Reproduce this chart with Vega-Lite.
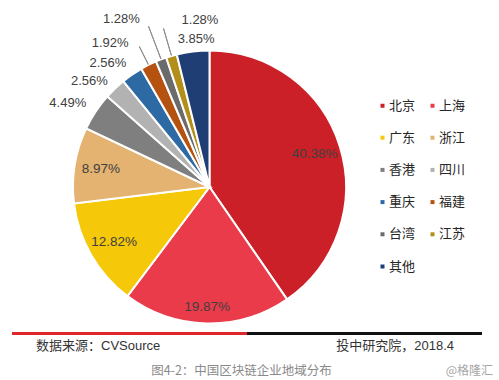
{
  "$schema": "https://vega.github.io/schema/vega-lite/v6.json",
  "background": "white",
  "padding": {"left": 12, "top": 13, "right": 5, "bottom": 0},
  "bounds": "flush",
  "spacing": 0,
  "config": {
    "view": {"stroke": null},
    "font": "Liberation Sans, Noto Sans CJK SC"
  },
  "datasets": {
    "regions": [
      {"region": "北京", "share": 0.4038},
      {"region": "上海", "share": 0.1987},
      {"region": "广东", "share": 0.1282},
      {"region": "浙江", "share": 0.0897},
      {"region": "香港", "share": 0.0449},
      {"region": "四川", "share": 0.0256},
      {"region": "重庆", "share": 0.0256},
      {"region": "福建", "share": 0.0192},
      {"region": "台湾", "share": 0.0128},
      {"region": "江苏", "share": 0.0128},
      {"region": "其他", "share": 0.0385}
    ],
    "footer": [
      {"seg": "左", "text": "数据来源：CVSource"},
      {"seg": "右", "text": "投中研究院，2018.4"}
    ]
  },
  "vconcat": [
    {
      "width": 395,
      "height": 290,
      "data": {"name": "regions"},
      "transform": [
        {"window": [{"op": "row_number", "as": "idx"}]},
        {"stack": "share", "groupby": [], "sort": [{"field": "idx", "order": "ascending"}], "as": ["s0", "s1"]}
      ],
      "layer": [
        {
          "mark": {"type": "arc", "outerRadius": 136.5, "stroke": "white", "strokeWidth": 2},
          "encoding": {
            "theta": {"field": "s0", "type": "quantitative", "stack": null},
            "theta2": {"field": "s1"},
            "color": {
              "field": "region",
              "type": "nominal",
              "scale": {
                "domain": ["北京", "上海", "广东", "浙江", "香港", "四川", "重庆", "福建", "台湾", "江苏", "其他"],
                "range": ["#cb2027", "#ea3b4a", "#f5c80a", "#e4b271", "#7f7f7f", "#b2b2b2", "#2d6aa3", "#b5520f", "#6b6b6b", "#b38f1a", "#1e3e74"]
              },
              "legend": {
                "orient": "none",
                "direction": "horizontal",
                "legendX": 364,
                "legendY": 57,
                "columns": 2,
                "title": null,
                "padding": 0,
                "symbolType": "square",
                "symbolSize": 16,
                "symbolStrokeWidth": 0,
                "labelFontSize": 13,
                "labelColor": "#262626",
                "labelFont": "Noto Sans CJK SC",
                "labelOffset": 0,
                "rowPadding": 18.2,
                "columnPadding": 10
              }
            }
          }
        },
        {
          "mark": {"type": "text", "fontSize": 13.5, "color": "#404040", "radius": 110},
          "encoding": {
            "theta": {"field": "share", "type": "quantitative", "stack": true},
            "order": {"field": "idx", "type": "quantitative"},
            "detail": {"field": "region", "type": "nominal"},
            "text": {
              "condition": {"test": "indexof(['北京','广东','浙江'], datum.region) >= 0", "field": "share", "type": "quantitative", "format": ".2%"},
              "value": ""
            }
          }
        },
        {
          "mark": {"type": "text", "fontSize": 13.5, "color": "#404040", "radius": 120},
          "encoding": {
            "theta": {"field": "share", "type": "quantitative", "stack": true},
            "order": {"field": "idx", "type": "quantitative"},
            "detail": {"field": "region", "type": "nominal"},
            "text": {
              "condition": {"test": "datum.region === '上海'", "field": "share", "type": "quantitative", "format": ".2%"},
              "value": ""
            }
          }
        },
        {
          "transform": [{"filter": "datum.region === '香港'"}],
          "mark": {"type": "text", "fontSize": 13, "color": "#404040", "radius": 165, "thetaOffset": 0.0942},
          "encoding": {
            "theta": {"field": "s0", "type": "quantitative", "stack": null},
            "text": {"field": "share", "type": "quantitative", "format": ".2%"}
          }
        },
        {
          "transform": [{"filter": "datum.region === '四川' || datum.region === '重庆'"}],
          "mark": {"type": "text", "fontSize": 13, "color": "#404040", "radius": 160, "thetaOffset": -0.0035},
          "encoding": {
            "theta": {"field": "s0", "type": "quantitative", "stack": null},
            "text": {"field": "share", "type": "quantitative", "format": ".2%"}
          }
        },
        {
          "transform": [{"filter": "datum.region === '福建'"}],
          "mark": {"type": "text", "fontSize": 13, "color": "#404040", "radius": 175, "thetaOffset": -0.0803},
          "encoding": {
            "theta": {"field": "s0", "type": "quantitative", "stack": null},
            "text": {"field": "share", "type": "quantitative", "format": ".2%"}
          }
        },
        {
          "transform": [{"filter": "datum.region === '台湾'"}],
          "mark": {"type": "text", "fontSize": 13, "color": "#404040", "radius": 189.5, "thetaOffset": -0.0803},
          "encoding": {
            "theta": {"field": "s0", "type": "quantitative", "stack": null},
            "text": {"field": "share", "type": "quantitative", "format": ".2%"}
          }
        },
        {
          "transform": [{"filter": "datum.region === '江苏'"}],
          "mark": {"type": "text", "fontSize": 13, "color": "#404040", "radius": 167, "thetaOffset": 0.2653},
          "encoding": {
            "theta": {"field": "s0", "type": "quantitative", "stack": null},
            "text": {"field": "share", "type": "quantitative", "format": ".2%"}
          }
        },
        {
          "transform": [{"filter": "datum.region === '其他'"}],
          "mark": {"type": "text", "fontSize": 13, "color": "#404040", "radius": 149, "thetaOffset": 0.1518},
          "encoding": {
            "theta": {"field": "s0", "type": "quantitative", "stack": null},
            "text": {"field": "share", "type": "quantitative", "format": ".2%"}
          }
        },
        {
          "transform": [{"filter": "datum.region === '福建'"}],
          "mark": {"type": "arc", "filled": false, "stroke": "#8c8c8c", "strokeWidth": 1, "innerRadius": 137, "outerRadius": 157, "thetaOffset": 0.0603, "theta2Offset": 0.0603},
          "encoding": {
            "theta": {"field": "s0", "type": "quantitative", "stack": null},
            "theta2": {"field": "s0"}
          }
        },
        {
          "transform": [{"filter": "datum.region === '台湾'"}],
          "mark": {"type": "arc", "filled": false, "stroke": "#8c8c8c", "strokeWidth": 1, "innerRadius": 137, "outerRadius": 172, "thetaOffset": 0.0402, "theta2Offset": 0.0402},
          "encoding": {
            "theta": {"field": "s0", "type": "quantitative", "stack": null},
            "theta2": {"field": "s0"}
          }
        },
        {
          "transform": [{"filter": "datum.region === '江苏'"}],
          "mark": {"type": "arc", "filled": false, "stroke": "#8c8c8c", "strokeWidth": 1, "innerRadius": 137, "outerRadius": 165, "thetaOffset": 0.0402, "theta2Offset": 0.0402},
          "encoding": {
            "theta": {"field": "s0", "type": "quantitative", "stack": null},
            "theta2": {"field": "s0"}
          }
        }
      ]
    },
    {
      "width": 470,
      "height": 3,
      "data": {"name": "footer"},
      "encoding": {
        "x": {"field": "seg", "type": "nominal", "sort": null, "axis": null, "scale": {"paddingInner": 0, "paddingOuter": 0}}
      },
      "layer": [
        {
          "mark": {"type": "bar"},
          "encoding": {
            "color": {"condition": {"test": "datum.seg === '左'", "value": "#e0262d"}, "value": "#111111"}
          }
        },
        {
          "transform": [{"filter": "datum.seg === '左'"}],
          "mark": {"type": "text", "align": "left", "dx": 24, "dy": 12, "fontSize": 13, "color": "#333333"},
          "encoding": {
            "x": {"field": "seg", "type": "nominal", "sort": null, "axis": null, "bandPosition": 0},
            "text": {"field": "text", "type": "nominal"}
          }
        },
        {
          "transform": [{"filter": "datum.seg === '右'"}],
          "mark": {"type": "text", "align": "right", "dx": -28, "dy": 12, "fontSize": 13, "color": "#333333"},
          "encoding": {
            "x": {"field": "seg", "type": "nominal", "sort": null, "axis": null, "bandPosition": 1},
            "text": {"field": "text", "type": "nominal"}
          }
        },
        {
          "transform": [{"filter": "datum.seg === '左'"}],
          "mark": {"type": "text", "align": "center", "dx": -5.5, "dy": 37, "fontSize": 12.5, "color": "#8a8a8a", "font": "Noto Sans CJK SC"},
          "encoding": {
            "x": {"field": "seg", "type": "nominal", "sort": null, "axis": null, "bandPosition": 1},
            "text": {"value": "图4-2：中国区块链企业地域分布"}
          }
        },
        {
          "transform": [{"filter": "datum.seg === '右'"}],
          "mark": {"type": "text", "align": "right", "dx": 11, "dy": 37, "fontSize": 12, "color": "#a6a6a6", "font": "Noto Sans CJK SC"},
          "encoding": {
            "x": {"field": "seg", "type": "nominal", "sort": null, "axis": null, "bandPosition": 1},
            "text": {"value": "@格隆汇"}
          }
        }
      ]
    }
  ]
}
